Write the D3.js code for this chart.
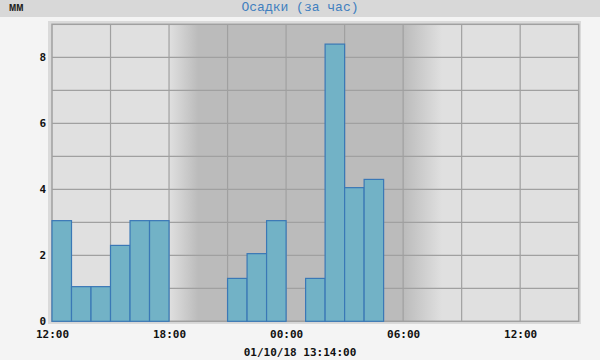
<!DOCTYPE html>
<html><head><meta charset="utf-8">
<script src="https://cdn.jsdelivr.net/npm/d3@7"></script>
<style>
html,body{margin:0;padding:0;background:#f4f4f4;}
svg{display:block;}
</style></head>
<body>
<svg id="chart" width="600" height="360"></svg>
<script>
// ---- data ----
const titleText = "Осадки (за час)";
const unitText = "мм";
const dateText = "01/10/18 13:14:00";
const startTime = new Date(2018, 8, 30, 12, 0);
const endTime = new Date(2018, 9, 1, 15, 0);
// hourly precipitation, hour starting at 12:00 on 30/09
const hourStarts = d3.range(26).map(i => new Date(2018, 8, 30, 12 + i, 0));
const values = [3.05, 1.05, 1.05, 2.3, 3.05, 3.05, 0, 0, 0, 1.3, 2.05, 3.05, 0, 1.3, 8.4, 4.05, 4.3, 0, 0, 0, 0, 0, 0, 0, 0, 0];
const yTicks = [0, 2, 4, 6, 8];
const xTickLabels = ["12:00", "18:00", "00:00", "06:00", "12:00"];
const xTickTimes = [new Date(2018,8,30,12), new Date(2018,8,30,18), new Date(2018,9,1,0), new Date(2018,9,1,6), new Date(2018,9,1,12)];
// night shading: dusk start, dark start, dark end, dawn end
const nightTimes = [new Date(2018,8,30,18,0), new Date(2018,8,30,19,30), new Date(2018,9,1,6,0), new Date(2018,9,1,8,0)];

const svg = d3.select("#chart");
const L = 52, R = 578.7, T = 24.3, B = 321.3;
const x = d3.scaleTime().domain([startTime, endTime]).range([L, R]);
const y = d3.scaleLinear().domain([0, 9]).range([B, T]);

// title bar
svg.append("rect").attr("x",0).attr("y",0).attr("width",600).attr("height",17).attr("fill","#d8d8d8");
svg.append("text").attr("x",300).attr("y",11).attr("text-anchor","middle")
  .attr("font-family","Liberation Mono, monospace").attr("font-size",13).attr("fill","#3f7fbf")
  .text(titleText);
svg.append("text").attr("x",9).attr("y",11)
  .attr("font-family","Liberation Mono, monospace").attr("font-size",12).attr("font-weight","bold").attr("fill","#222")
  .text(unitText);

// outer panel
svg.append("rect").attr("x",48).attr("y",21).attr("width",533).attr("height",303).attr("fill","#dadada");
// plot background
svg.append("rect").attr("x",L).attr("y",T).attr("width",R-L).attr("height",B-T).attr("fill","#e0e0e0");

// night gradient
const defs = svg.append("defs");
const g = defs.append("linearGradient").attr("id","night").attr("gradientUnits","userSpaceOnUse")
  .attr("x1",L).attr("x2",R).attr("y1",0).attr("y2",0);
const pct = t => ((x(t)-L)/(R-L)*100) + "%";
const stops = [[nightTimes[0],"#e0e0e0"],[nightTimes[1],"#bbbbbb"],[nightTimes[2],"#bbbbbb"],[nightTimes[3],"#e0e0e0"]];
g.append("stop").attr("offset","0%").attr("stop-color","#e0e0e0");
stops.forEach(s => g.append("stop").attr("offset",pct(s[0])).attr("stop-color",s[1]));
g.append("stop").attr("offset","100%").attr("stop-color","#e0e0e0");
svg.append("rect").attr("x",L).attr("y",T).attr("width",R-L).attr("height",B-T).attr("fill","url(#night)");

// grid
const grid = svg.append("g").attr("stroke","#a0a0a0").attr("stroke-width",1.2);
d3.range(1, 9).forEach(v => grid.append("line").attr("x1",L).attr("x2",R).attr("y1",y(v)).attr("y2",y(v)));
d3.timeHour.every(3).range(startTime, endTime).slice(1).forEach(t =>
  grid.append("line").attr("x1",x(t)).attr("x2",x(t)).attr("y1",T).attr("y2",B));
svg.append("rect").attr("x",L).attr("y",T).attr("width",R-L).attr("height",B-T)
  .attr("fill","none").attr("stroke","#a0a0a0").attr("stroke-width",1.5);

// bars
svg.append("g").selectAll("rect").data(values).join("rect")
  .attr("x",(d,i)=>x(hourStarts[i]))
  .attr("width",(d,i)=>x(d3.timeHour.offset(hourStarts[i],1))-x(hourStarts[i]))
  .attr("y",d=>y(d))
  .attr("height",d=>B-y(d))
  .attr("fill","#72b2c6").attr("stroke","#3a78b6").attr("stroke-width",1.2);

// y axis labels
const yAxis = d3.axisLeft(y).tickValues(yTicks).tickSize(0).tickPadding(6).tickFormat(d3.format("d"));
const ya = svg.append("g").attr("transform",`translate(${L},0)`).call(yAxis);
ya.select(".domain").remove();
ya.selectAll("text").attr("font-family","DejaVu Sans Mono, monospace").attr("font-size",11)
  .attr("font-weight","bold").attr("fill","#111");

// x axis labels
const xAxis = d3.axisBottom(x).tickValues(xTickTimes).tickSize(0).tickPadding(9)
  .tickFormat((d,i)=>xTickLabels[i]);
const xa = svg.append("g").attr("transform",`translate(0,${B})`).call(xAxis);
xa.select(".domain").remove();
xa.selectAll("text").attr("font-family","DejaVu Sans Mono, monospace").attr("font-size",11)
  .attr("font-weight","bold").attr("fill","#111");

svg.append("text").attr("x",300).attr("y",356).attr("text-anchor","middle")
  .attr("font-family","DejaVu Sans Mono, monospace").attr("font-size",11).attr("font-weight","bold").attr("fill","#111")
  .text(dateText);
</script>
</body></html>
